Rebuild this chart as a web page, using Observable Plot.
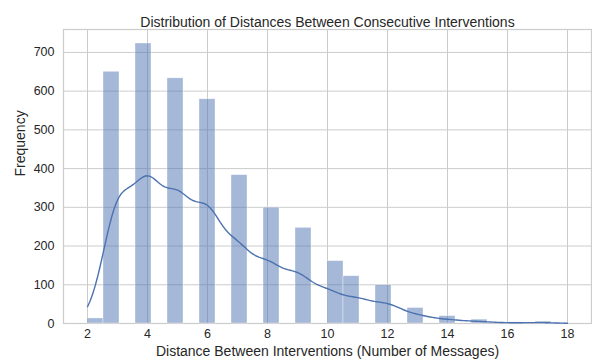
<!DOCTYPE html>
<html>
<head>
<meta charset="utf-8">
<script src="https://cdn.jsdelivr.net/npm/d3@7"></script>
<script src="https://cdn.jsdelivr.net/npm/@observablehq/plot@0.6"></script>
<style>
  body { margin: 0; background: #fff; }
  svg { font-family: "Liberation Sans", Arial, sans-serif; }
</style>
</head>
<body>
<div id="chart"></div>
<script>
// Observed distances (number of messages) and their counts
const distances = [2, 3, 4, 5, 6, 7, 8, 9, 10, 11, 12, 13, 14, 15, 16, 17, 18];
const counts    = [13, 650, 723, 633, 579, 383, 299, 247, 161, 122, 99, 40, 19, 10, 3, 5, 1];
const xTicks = [2, 4, 6, 8, 10, 12, 14, 16, 18];
const yTicks = [0, 100, 200, 300, 400, 500, 600, 700];
const title = "Distribution of Distances Between Consecutive Interventions";
const xLabel = "Distance Between Interventions (Number of Messages)";
const yLabel = "Frequency";

// histogram: 30 equal bins over the data range (as in seaborn histplot)
const nBins = 30;
const lo = d3.min(distances), hi = d3.max(distances);
const binW = (hi - lo) / nBins;
const bins = d3.range(nBins).map(i => ({x1: lo + i * binW, x2: lo + (i + 1) * binW, count: 0}));
distances.forEach((v, i) => {
  const k = Math.min(nBins - 1, Math.floor((v - lo) * nBins / (hi - lo)));
  bins[k].count += counts[i];
});

// Gaussian KDE (Scott's rule) of the same observations, scaled to counts
const n = d3.sum(counts);
const mean = d3.sum(distances.map((v, i) => v * counts[i])) / n;
const variance = d3.sum(distances.map((v, i) => counts[i] * (v - mean) ** 2)) / (n - 1);
const bw = Math.pow(n, -1 / 5) * Math.sqrt(variance);
const kde = d3.range(200).map(j => {
  const x = lo + (hi - lo) * j / 199;
  let s = 0;
  distances.forEach((v, i) => { s += counts[i] * Math.exp(-0.5 * ((x - v) / bw) ** 2); });
  const dens = s / (n * bw * Math.sqrt(2 * Math.PI));
  return {x, y: dens * n * binW};
});

const ymax = Math.max(d3.max(bins, d => d.count), d3.max(kde, d => d.y)) * 1.05;
const xpad = (hi - lo) * 0.05;

const chart = Plot.plot({
  width: 592,
  height: 362,
  marginLeft: 63,
  marginRight: 1,
  marginTop: 29,
  marginBottom: 39,
  style: {fontFamily: '"Liberation Sans", Arial, sans-serif', fontSize: "12.5px", color: "#262626", background: "#fff"},
  x: {domain: [lo - xpad, hi + xpad]},
  y: {domain: [0, ymax]},
  marks: [
    Plot.gridX(xTicks, {stroke: "#cccccc", strokeOpacity: 1, strokeWidth: 1}),
    Plot.gridY(yTicks, {stroke: "#cccccc", strokeOpacity: 1, strokeWidth: 1}),
    Plot.frame({stroke: "#cccccc", strokeWidth: 1.2}),
    Plot.rectY(bins, {x1: "x1", x2: "x2", y: "count", fill: "#4c72b0", fillOpacity: 0.5, stroke: "#ffffff", strokeWidth: 0.6, strokeOpacity: 0.6}),
    Plot.line(kde, {x: "x", y: "y", stroke: "#4c72b0", strokeWidth: 1.4}),
    Plot.axisX(xTicks, {tickSize: 0, tickPadding: 6, fontSize: 12.5, label: null}),
    Plot.axisY(yTicks, {tickSize: 0, tickPadding: 9, fontSize: 12.5, label: null}),
    Plot.text([title], {frameAnchor: "top", dy: -12, fontSize: 14, fill: "#262626"}),
    Plot.text([xLabel], {frameAnchor: "bottom", dy: 32, fontSize: 14, fill: "#262626"}),
    Plot.text([yLabel], {frameAnchor: "left", dx: -43, rotate: -90, fontSize: 14, fill: "#262626"})
  ]
});
document.getElementById("chart").appendChild(chart);
</script>
</body>
</html>
